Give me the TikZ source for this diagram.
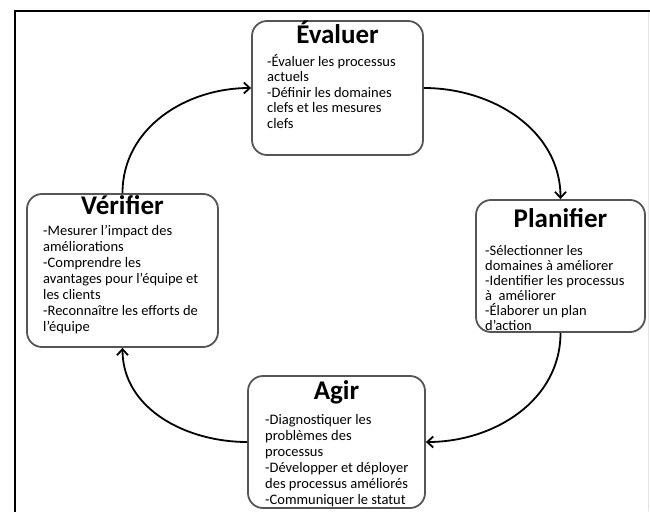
\documentclass[tikz,border=0pt]{standalone}
\usepackage{fontspec}
\setmainfont{Carlito}
\usetikzlibrary{arrows.meta}
\definecolor{boxgray}{HTML}{555555}
\begin{document}
\begin{tikzpicture}[x=1pt,y=-1pt,
  stagebox/.style={draw=boxgray, line width=1.8pt, rounded corners=15pt, fill=white, inner sep=0pt},
  stagetitle/.style={font=\fontsize{27}{30}\selectfont\bfseries, inner sep=0pt, anchor=base},
  % anchor at the baseline of the last line
  stagebody/.style={font=\fontsize{14.5}{#1}\selectfont, inner sep=0pt, anchor=base west, align=left},
  stagebody/.default=15.8,
  flow/.style={line width=1.8pt, -{Straight Barb[length=6pt,width=11pt]}}
]
\useasboundingbox (0,0) rectangle (650,511);
\fill[white] (0,0) rectangle (650,511);

% outer frame
\draw[line width=2pt] (15,512) -- (15,11) -- (651,11);
\draw[black!10, line width=1pt] (648.5,12) -- (648.5,511);

% stage boxes
\node[stagebox, minimum width=171pt, minimum height=134pt] (ev) at (337.5,88) {};
\node[stagebox, minimum width=169pt, minimum height=132pt] (pl) at (560.5,266) {};
\node[stagebox, minimum width=177pt, minimum height=132pt] (ag) at (336.5,442) {};
\node[stagebox, minimum width=191pt, minimum height=153pt] (ve) at (122.5,270.5) {};

% titles
\node[stagetitle] (evt) at ([yshift=-23pt]ev.north) {Évaluer};
\node[stagetitle] (plt) at ([yshift=-28pt]pl.north) {Planifier};
\node[stagetitle] (agt) at ([yshift=-24pt]ag.north) {Agir};
\node[stagetitle] (vet) at ([yshift=-21pt]ve.north) {Vérifier};

% descriptions
\node[stagebody=15.5] (evb) at (267,128) {-Évaluer les processus\\actuels\\-Définir les domaines\\clefs et les mesures\\clefs};
\node[stagebody=15] (plb) at (485,330) {-Sélectionner les\\domaines à améliorer\\-Identifier les processus\\à\ \ améliorer\\-Élaborer un plan\\d’action};
\node[stagebody=16] (agb) at (265,504) {-Diagnostiquer les\\problèmes des\\processus\\-Développer et déployer\\des processus améliorés\\-Communiquer le statut};
\node[stagebody=16] (veb) at (43,331) {-Mesurer l’impact des\\améliorations\\-Comprendre les\\avantages pour l’équipe et\\les clients\\-Reconnaître les efforts de\\l’équipe};

% cycle
\draw[flow] (ev.east) to[out=0, in=90] (pl.north);
\draw[flow] (pl.south) to[out=-90, in=0] (ag.east);
\draw[flow] (ag.west) to[out=180, in=-90] (ve.south);
\draw[flow] (ve.north) to[out=90, in=180] (ev.west);
\end{tikzpicture}
\end{document}
